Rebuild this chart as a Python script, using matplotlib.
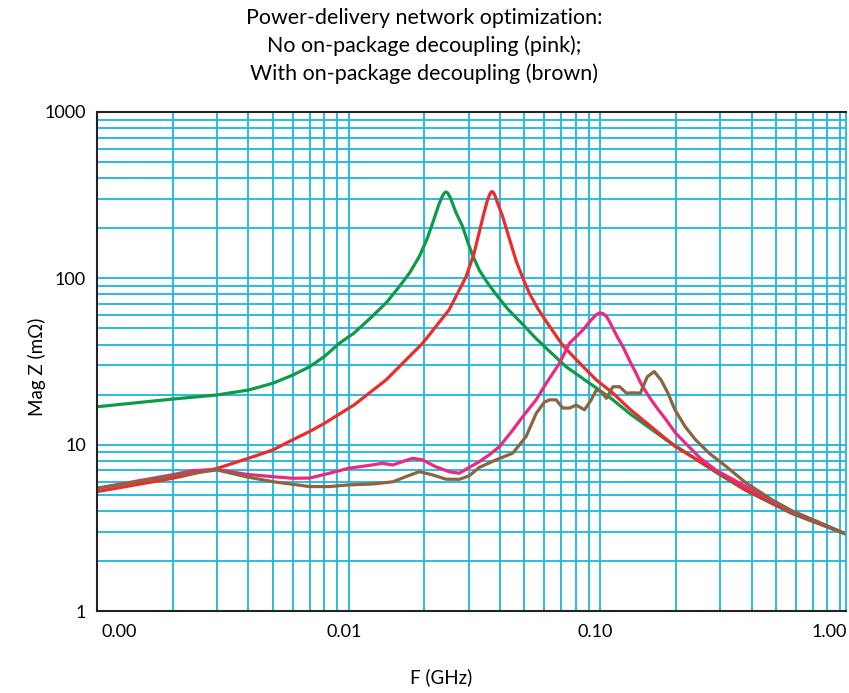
import matplotlib
matplotlib.use("Agg")
import matplotlib.pyplot as plt
import matplotlib.transforms as mtransforms
from matplotlib.ticker import LogLocator, NullFormatter, FixedLocator, FixedFormatter

plt.rcParams['font.family'] = ['Lato', 'DejaVu Sans']

# ---- data (frequency in GHz, |Z| in mOhm) ----
f_green = [0.001, 0.002, 0.003, 0.004, 0.005, 0.006, 0.007, 0.008, 0.0092, 0.0105,
           0.0124, 0.0142, 0.0159, 0.0175, 0.0191, 0.0205, 0.0216, 0.0228, 0.0236,
           0.024, 0.0244, 0.0248, 0.0254, 0.026, 0.0267, 0.0284, 0.03, 0.0311,
           0.0331, 0.0355, 0.0386, 0.0431, 0.0492, 0.0552, 0.0611, 0.0733, 0.0908,
           0.1125, 0.131, 0.183, 0.29, 0.38, 0.58, 0.95]
z_green = [16.9, 18.8, 19.9, 21.3, 23.4, 26.2, 29.4, 33.8, 40.7, 46.8,
           58.9, 72, 89, 108, 135, 172, 215, 275, 312,
           325, 331, 326, 305, 278, 250, 205, 160, 138,
           112, 95, 80, 65, 53, 44, 38, 29.4, 23.4,
           18.6, 15.4, 10.7, 6.8, 5.3, 3.85, 2.9]

f_red = [0.001, 0.002, 0.003, 0.004, 0.005, 0.006, 0.007, 0.008, 0.0105, 0.0141,
         0.0197, 0.0251, 0.0293, 0.0315, 0.0331, 0.0345, 0.0356, 0.0365, 0.037,
         0.0376, 0.0383, 0.039, 0.041, 0.0435, 0.0464, 0.0495, 0.0524, 0.0565,
         0.0611, 0.0711, 0.0828, 0.0966, 0.1125, 0.131, 0.198, 0.29, 0.38, 0.58,
         0.95]
z_red = [5.22, 6.28, 7.2, 8.28, 9.29, 10.7, 12.0, 13.4, 17.3, 24.5,
         40.7, 64.6, 102, 140, 190, 245, 292, 322, 332,
         330, 312, 288, 235, 175, 127, 99, 81, 66,
         55, 39.5, 31, 24.5, 20.4, 16.4, 9.8, 6.9, 5.35, 3.9,
         2.9]

f_pink = [0.001, 0.002, 0.0024, 0.003, 0.0039, 0.005, 0.006, 0.007, 0.0084, 0.01,
          0.0124, 0.0136, 0.015, 0.0164, 0.018, 0.0197, 0.0222, 0.0251, 0.0276,
          0.0302, 0.0331, 0.0363, 0.0398, 0.045, 0.0492, 0.0557, 0.0611, 0.069,
          0.0756, 0.0855, 0.092, 0.0966, 0.1, 0.1026, 0.106, 0.109, 0.1125, 0.1175,
          0.1233, 0.131, 0.138, 0.145, 0.153, 0.16, 0.17, 0.18, 0.2, 0.25, 0.29,
          0.38, 0.49, 0.58, 0.73, 0.95]
z_pink = [5.47, 6.6, 6.98, 7.1, 6.64, 6.42, 6.28, 6.3, 6.73, 7.21,
          7.55, 7.73, 7.55, 7.91, 8.28, 8.1, 7.37, 6.88, 6.73,
          7.3, 7.9, 8.7, 9.73, 12.25, 14.7, 18.6, 23.4, 30.9,
          40.7, 49, 56, 60.5, 62, 61.5, 59, 55, 50, 44,
          38.8, 32, 27.5, 23.5, 20.5, 18.5, 16.3, 14.6, 11.7, 8.3, 7.0,
          5.6, 4.54, 3.96, 3.44, 2.9]

f_brown = [0.001, 0.002, 0.003, 0.0039, 0.005, 0.007, 0.0084, 0.01, 0.0124, 0.015,
           0.0169, 0.0191, 0.0216, 0.0244, 0.0276, 0.0302, 0.0331, 0.0386, 0.045,
           0.0508, 0.0557, 0.06, 0.063, 0.0669, 0.0711, 0.0756, 0.0804, 0.0867,
           0.0922, 0.0966, 0.101, 0.106, 0.1125, 0.1196, 0.1274, 0.1357, 0.1446,
           0.154, 0.1641, 0.1748, 0.1862, 0.1984, 0.2182, 0.2397, 0.2716, 0.3118,
           0.38, 0.49, 0.58, 0.73, 0.95]
z_brown = [5.45, 6.5, 7.05, 6.42, 5.99, 5.6, 5.6, 5.73, 5.8, 5.98,
           6.42, 6.88, 6.58, 6.2, 6.19, 6.5, 7.3, 8.1, 8.9,
           11.2, 15.4, 18.0, 18.6, 18.6, 16.6, 16.6, 17.3, 16.2,
           18.6, 21.3, 20.8, 19.0, 22.3, 22.3, 20.4, 20.5, 20.4,
           25.6, 27.5, 24.5, 20.4, 16.2, 12.8, 10.7, 8.88, 7.55,
           5.9, 4.6, 4.0, 3.45, 2.9]

x_tick_pos = [0.00122, 0.0096, 0.096, 0.813]
x_tick_labels = ["0.00", "0.01", "0.10", "1.00"]
y_ticks = [1, 10, 100, 1000]
y_tick_labels = ["1", "10", "100", "1000"]

title = ("Power-delivery network optimization:\n"
         "No on-package decoupling (pink);\n"
         "With on-package decoupling (brown)")

# ---- figure ----
fig = plt.figure(figsize=(8.49, 6.93), dpi=100)
ax = fig.add_axes([97/849, 82/693, 749/849, 499/693])

grid_c = "#1cb6dc"
ax.set_xscale("log")
ax.set_yscale("log")
ax.set_xlim(0.001, 0.95)
ax.set_ylim(1, 1000)

ax.xaxis.set_major_locator(LogLocator(base=10))
ax.xaxis.set_minor_locator(LogLocator(base=10, subs=range(2, 10)))
ax.yaxis.set_minor_locator(LogLocator(base=10, subs=range(2, 10)))
ax.xaxis.set_major_formatter(NullFormatter())
ax.xaxis.set_minor_formatter(NullFormatter())
ax.yaxis.set_minor_formatter(NullFormatter())
ax.yaxis.set_major_locator(FixedLocator(y_ticks))
ax.yaxis.set_major_formatter(FixedFormatter(y_tick_labels))
ax.grid(True, which="both", color=grid_c, lw=1.3)
ax.set_axisbelow(True)
ax.tick_params(which="both", length=0)
ax.tick_params(axis="y", labelsize=13, pad=8)

trans = mtransforms.blended_transform_factory(ax.transData, ax.transAxes)
for xp, lab in zip(x_tick_pos, x_tick_labels):
    ax.text(xp, -0.027, lab, transform=trans, ha="center", va="top", fontsize=13)

lw = 2.3
kw = dict(lw=lw, solid_joinstyle="round", solid_capstyle="round")
ax.plot(f_green, z_green, color="#0f9a48", **kw)
ax.plot(f_red, z_red, color="#ee2b2b", **kw)
ax.plot(f_pink, z_pink, color="#ea2a80", **kw)
ax.plot(f_brown, z_brown, color="#8c6440", **kw)

for s in ["left", "bottom", "top"]:
    ax.spines[s].set_color("#222222")
    ax.spines[s].set_linewidth(1.5)
ax.spines["right"].set_color(grid_c)
ax.spines["right"].set_linewidth(1.3)

ax.set_ylabel("Mag Z (m\u03a9)", fontsize=13.5)
ax.set_xlabel("F (GHz)", fontsize=13.5)
ax.xaxis.set_label_coords(0.46, -0.115)
ax.yaxis.set_label_coords(-0.068, 0.49)

fig.text(0.5, 0.988, title, ha="center", va="top", fontsize=15.4, linespacing=1.45)

fig.savefig("out.png", dpi=100)
